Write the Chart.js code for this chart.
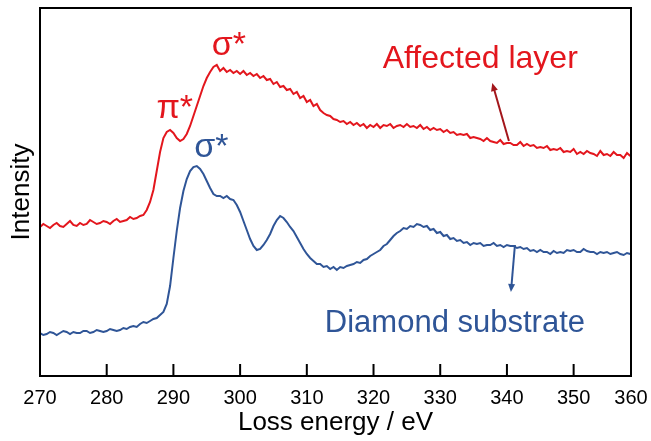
<!DOCTYPE html>
<html>
<head>
<meta charset="utf-8">
<script src="https://cdn.jsdelivr.net/npm/chart.js@4/dist/chart.umd.min.js"></script>
<style>
  html, body { margin: 0; padding: 0; background: #fff; }
  #wrap { width: 651px; height: 441px; }
</style>
</head>
<body>
<div id="wrap"><canvas id="eelsChart"></canvas></div>
<script>
// loss energy (eV), every 0.5 eV
const energy = [
  270, 270.5, 271, 271.5, 272, 272.5, 273, 273.5, 274, 274.5,
  275, 275.5, 276, 276.5, 277, 277.5, 278, 278.5, 279, 279.5,
  280, 280.5, 281, 281.5, 282, 282.5, 283, 283.5, 284, 284.5,
  285, 285.5, 286, 286.5, 287, 287.5, 288, 288.5, 289, 289.5,
  290, 290.5, 291, 291.5, 292, 292.5, 293, 293.5, 294, 294.5,
  295, 295.5, 296, 296.5, 297, 297.5, 298, 298.5, 299, 299.5,
  300, 300.5, 301, 301.5, 302, 302.5, 303, 303.5, 304, 304.5,
  305, 305.5, 306, 306.5, 307, 307.5, 308, 308.5, 309, 309.5,
  310, 310.5, 311, 311.5, 312, 312.5, 313, 313.5, 314, 314.5,
  315, 315.5, 316, 316.5, 317, 317.5, 318, 318.5, 319, 319.5,
  320, 320.5, 321, 321.5, 322, 322.5, 323, 323.5, 324, 324.5,
  325, 325.5, 326, 326.5, 327, 327.5, 328, 328.5, 329, 329.5,
  330, 330.5, 331, 331.5, 332, 332.5, 333, 333.5, 334, 334.5,
  335, 335.5, 336, 336.5, 337, 337.5, 338, 338.5, 339, 339.5,
  340, 340.5, 341, 341.5, 342, 342.5, 343, 343.5, 344, 344.5,
  345, 345.5, 346, 346.5, 347, 347.5, 348, 348.5, 349, 349.5,
  350, 350.5, 351, 351.5, 352, 352.5, 353, 353.5, 354, 354.5,
  355, 355.5, 356, 356.5, 357, 357.5, 358, 358.5
]

// intensity, arbitrary units
const affectedLayer = [
  149, 152, 150, 148, 151, 153, 150, 149, 152, 155,
  151, 150, 153, 151, 152, 156, 154, 152, 153, 155,
  154, 152, 155, 157, 154, 155, 156, 159, 157, 158,
  160, 161, 166, 174, 186, 205, 224, 238, 244, 246,
  243, 238, 235, 237, 242, 250, 260, 270, 280, 290,
  298, 304, 309, 311, 305, 308, 304, 306, 303, 305,
  302, 305, 301, 303, 300, 302, 298, 300, 296, 297,
  292, 294, 289, 290, 286, 287, 282, 284, 278, 280,
  274, 276, 270, 272, 266, 263, 261, 260, 257, 256,
  254, 255, 252, 254, 251, 253, 250, 252, 248, 251,
  249, 252, 248, 251, 250, 252, 248, 250, 251, 249,
  252, 249, 250, 248, 251, 247, 249, 246, 248, 246,
  247, 244, 246, 243, 244, 241, 242, 241, 242, 238,
  239, 238, 237, 235, 238, 235, 234, 233, 236, 232,
  233, 233, 231, 231, 234, 230, 232, 230, 231, 228,
  229, 228, 230, 226, 227, 226, 228, 224, 225, 224,
  227, 222, 224, 222, 225, 223, 222, 220, 225, 221,
  222, 220, 224, 221, 221, 218, 223, 220
]

const diamondSubstrate = [
  43, 41, 42, 44, 43, 41, 43, 45, 44, 42,
  44, 43, 43, 45, 45, 43, 44, 46, 45, 44,
  45, 47, 46, 45, 46, 48, 47, 49, 50, 49,
  52, 54, 53, 55, 57, 58, 61, 64, 72, 90,
  118, 145, 168, 185, 197, 205, 209, 210, 207, 202,
  195, 188, 182, 180, 180, 178, 180, 177, 176, 171,
  164, 155, 146, 137, 130, 126, 127, 131, 136, 142,
  150, 156, 160, 158, 154, 149, 145, 139, 133, 127,
  122, 118, 115, 112, 112, 109, 110, 107, 109, 106,
  109, 108, 110, 111, 112, 114, 113, 116, 117, 120,
  122, 124, 126, 130, 132, 136, 140, 143, 145, 148,
  147, 150, 149, 152, 151, 149, 150, 146, 147, 143,
  144, 140, 141, 137, 138, 135, 136, 133, 134, 131,
  133, 132, 133, 130, 131, 131, 133, 130, 131, 129,
  131, 130, 130, 128, 129, 127, 128, 125, 126, 124,
  126, 124, 124, 122, 125, 123, 124, 123, 126, 125,
  126, 124, 124, 127, 125, 124, 124, 122, 124, 123,
  124, 122, 123, 124, 122, 121, 123, 122
]

const xTickLabels = [270, 280, 290, 300, 310, 320, 330, 340, 350, 360]

const X_MIN = 270
const X_MAX = 358.6
const RED = '#e3161d'
const BLUE = '#2f5597'
const FONT = '"Liberation Sans", Arial, sans-serif'

// text labels and arrows, placed in data coordinates
const labels = [
  { text: 'σ*', x: 298.3, y: 321, color: RED, size: 34 },
  { text: 'π*', x: 290.2, y: 258, color: RED, size: 34 },
  { text: 'σ*', x: 295.7, y: 219, color: BLUE, size: 34 },
  { text: 'Affected layer', x: 336.0, y: 308, color: RED, size: 32 },
  { text: 'Diamond substrate', x: 332.2, y: 44, color: BLUE, size: 31 }
]
const arrows = [
  { from: [340.3, 235], to: [337.8, 293], color: '#a3161b' },
  { from: [341.2, 131], to: [340.6, 84], color: BLUE }
]

function toPoints(ys) {
  return energy.map((e, i) => ({ x: e, y: ys[i] }))
}

const framePlugin = {
  id: 'frame',
  afterDraw(chart) {
    const { ctx, chartArea: a, scales: { x } } = chart
    ctx.save()
    ctx.strokeStyle = '#000'
    ctx.lineWidth = 2
    ctx.strokeRect(a.left, a.top, a.right - a.left, a.bottom - a.top)
    // inward tick marks
    ctx.beginPath()
    for (const v of xTickLabels) {
      if (v <= X_MIN || v >= X_MAX) continue
      const px = x.getPixelForValue(v)
      ctx.moveTo(px, a.bottom)
      ctx.lineTo(px, a.bottom - 12)
    }
    ctx.stroke()
    ctx.restore()
  }
}

const annotationPlugin = {
  id: 'notes',
  afterDatasetsDraw(chart) {
    const { ctx, scales: { x, y } } = chart
    ctx.save()
    ctx.textAlign = 'center'
    ctx.textBaseline = 'alphabetic'
    for (const l of labels) {
      ctx.fillStyle = l.color
      ctx.font = l.size + 'px ' + FONT
      ctx.fillText(l.text, x.getPixelForValue(l.x), y.getPixelForValue(l.y))
    }
    for (const ar of arrows) {
      const x1 = x.getPixelForValue(ar.from[0]), y1 = y.getPixelForValue(ar.from[1])
      const x2 = x.getPixelForValue(ar.to[0]), y2 = y.getPixelForValue(ar.to[1])
      const ang = Math.atan2(y2 - y1, x2 - x1)
      ctx.strokeStyle = ar.color
      ctx.fillStyle = ar.color
      ctx.lineWidth = 2
      ctx.beginPath()
      ctx.moveTo(x1, y1)
      ctx.lineTo(x2 - 5 * Math.cos(ang), y2 - 5 * Math.sin(ang))
      ctx.stroke()
      ctx.beginPath()
      ctx.moveTo(x2, y2)
      ctx.lineTo(x2 - 8 * Math.cos(ang) + 3.5 * Math.sin(ang), y2 - 8 * Math.sin(ang) - 3.5 * Math.cos(ang))
      ctx.lineTo(x2 - 8 * Math.cos(ang) - 3.5 * Math.sin(ang), y2 - 8 * Math.sin(ang) + 3.5 * Math.cos(ang))
      ctx.closePath()
      ctx.fill()
    }
    ctx.restore()
  }
}

const config = {
  type: 'line',
  data: {
    datasets: [{
      label: 'Affected layer',
      data: toPoints(affectedLayer),
      borderColor: RED,
      borderWidth: 2,
      pointRadius: 0,
      tension: 0
    }, {
      label: 'Diamond substrate',
      data: toPoints(diamondSubstrate),
      borderColor: BLUE,
      borderWidth: 2,
      pointRadius: 0,
      tension: 0
    }]
  },
  options: {
    responsive: true,
    maintainAspectRatio: false,
    animation: false,
    layout: { padding: { left: 0, right: 20, top: 8, bottom: 0 } },
    plugins: {
      legend: { display: false },
      tooltip: { enabled: false }
    },
    scales: {
      x: {
        type: 'linear',
        min: X_MIN,
        max: X_MAX,
        grid: { display: false },
        border: { display: false },
        afterBuildTicks: (axis) => {
          axis.ticks = xTickLabels.map(v => ({ value: Math.min(v, X_MAX) }))
        },
        afterFit: (axis) => { axis.height = 65 },
        ticks: {
          color: '#000',
          padding: 2,
          maxRotation: 0,
          autoSkip: false,
          font: { family: FONT, size: 20 },
          callback: (value, index) => xTickLabels[index]
        },
        title: {
          display: true,
          text: 'Loss energy / eV',
          color: '#000',
          padding: { top: 0, bottom: 3 },
          font: { family: FONT, size: 26 }
        }
      },
      y: {
        min: 0,
        max: 368,
        grid: { display: false },
        border: { display: false },
        ticks: { display: false },
        afterFit: (axis) => { axis.width = 40 },
        title: {
          display: true,
          text: 'Intensity',
          color: '#000',
          padding: { top: 6, bottom: 0 },
          font: { family: FONT, size: 26 }
        }
      }
    }
  },
  plugins: [annotationPlugin, framePlugin]
}

new Chart(document.getElementById('eelsChart'), config)
</script>
</body>
</html>
